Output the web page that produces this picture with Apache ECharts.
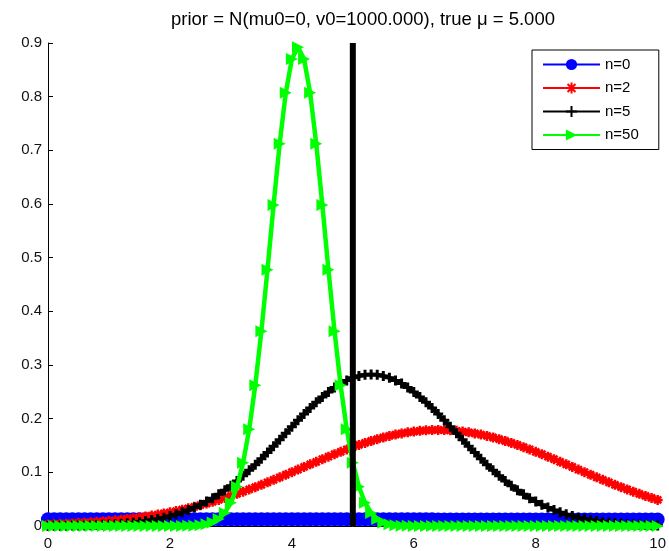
<!DOCTYPE html>
<html><head><meta charset="utf-8">
<script src="https://cdn.jsdelivr.net/npm/echarts@6/dist/echarts.min.js"></script>
<style>html,body{margin:0;padding:0;background:#fff}#c{width:669px;height:551px}</style>
</head><body><div id="c"></div>
<script>
const titleText = 'prior = N(mu0=0, v0=1000.000), true \u03bc = 5.000';
const seriesNames = ['n=0', 'n=2', 'n=5', 'n=50'];
const xTickInterval = 2;
const yTickInterval = 0.1;
const xs = [0,0.1,0.2,0.3,0.4,0.5,0.6,0.7,0.8,0.9,1,1.1,1.2,1.3,1.4,1.5,1.6,1.7,1.8,1.9,2,2.1,2.2,2.3,2.4,2.5,2.6,2.7,2.8,2.9,3,3.1,3.2,3.3,3.4,3.5,3.6,3.7,3.8,3.9,4,4.1,4.2,4.3,4.4,4.5,4.6,4.7,4.8,4.9,5,5.1,5.2,5.3,5.4,5.5,5.6,5.7,5.8,5.9,6,6.1,6.2,6.3,6.4,6.5,6.6,6.7,6.8,6.9,7,7.1,7.2,7.3,7.4,7.5,7.6,7.7,7.8,7.9,8,8.1,8.2,8.3,8.4,8.5,8.6,8.7,8.8,8.9,9,9.1,9.2,9.3,9.4,9.5,9.6,9.7,9.8,9.9,10];
const n0 = [0.0126,0.0126,0.0126,0.0126,0.0126,0.0126,0.0126,0.0126,0.0126,0.0126,0.0126,0.0126,0.0126,0.0126,0.0126,0.0126,0.0126,0.0126,0.0126,0.0126,0.0126,0.0126,0.0126,0.0126,0.0126,0.0126,0.0126,0.0126,0.0126,0.0126,0.0126,0.0126,0.0126,0.0126,0.0126,0.0126,
 0.0125,0.0125,0.0125,0.0125,0.0125,0.0125,0.0125,0.0125,0.0125,0.0125,0.0125,0.0125,0.0125,0.0125,0.0125,0.0125,0.0125,
 0.0124,0.0124,0.0124,0.0124,0.0124,0.0124,0.0124,0.0124,0.0124,0.0124,0.0124,
 0.0123,0.0123,0.0123,0.0123,0.0123,0.0123,0.0123,0.0123,0.0123,
 0.0122,0.0122,0.0122,0.0122,0.0122,0.0122,0.0122,0.0122,
 0.0121,0.0121,0.0121,0.0121,0.0121,0.0121,0.0121,
 0.0120,0.0120,0.0120,0.0120,0.0120,0.0120,0.0120,0.0120,0.0120,0.0120,0.0120,0.0120,0.0120];
const n2 = [0.0029,0.0033,0.0038,0.0043,0.0048,0.0054,0.0061,0.0068,0.0077,0.0086,0.0096,0.0106,0.0118,0.0131,0.0145,0.0160,0.0177,0.0194,0.0213,0.0234,0.0256,0.0279,0.0304,0.0330,0.0358,0.0388,0.0419,0.0452,0.0486,0.0522,0.0560,0.0599,0.0639,0.0681,0.0724,0.0768,0.0814,0.0860,0.0907,0.0955,0.1003,0.1051,0.1100,0.1149,0.1197,0.1245,0.1292,0.1338,0.1383,0.1427,0.1469,0.1510,0.1548,0.1584,0.1618,0.1649,0.1678,0.1703,0.1725,0.1745,0.1760,0.1773,0.1782,0.1787,0.1789,0.1787,0.1782,0.1773,0.1760,0.1745,0.1725,0.1703,0.1678,0.1649,0.1618,0.1584,0.1548,0.1510,0.1469,0.1427,0.1383,0.1338,0.1292,0.1245,0.1197,0.1149,0.1100,0.1051,0.1003,0.0955,0.0907,0.0860,0.0814,0.0768,0.0724,0.0681,0.0639,0.0599,0.0560,0.0522,0.0486];
const n5 = [0.0002,0.0003,0.0004,0.0005,0.0007,0.0009,0.0011,0.0014,0.0018,0.0022,0.0028,0.0034,0.0042,0.0051,0.0063,0.0076,0.0092,0.0110,0.0131,0.0156,0.0185,0.0217,0.0254,0.0296,0.0344,0.0396,0.0455,0.0519,0.0590,0.0667,0.0751,0.0840,0.0936,0.1037,0.1143,0.1254,0.1369,0.1487,0.1607,0.1728,0.1849,0.1969,0.2086,0.2198,0.2305,0.2406,0.2498,0.2580,0.2653,0.2713,0.2761,0.2796,0.2817,0.2824,0.2817,0.2796,0.2761,0.2713,0.2653,0.2580,0.2498,0.2406,0.2305,0.2198,0.2086,0.1969,0.1849,0.1728,0.1607,0.1487,0.1369,0.1254,0.1143,0.1037,0.0936,0.0840,0.0751,0.0667,0.0590,0.0519,0.0455,0.0396,0.0344,0.0296,0.0254,0.0217,0.0185,0.0156,0.0131,0.0110,0.0092,0.0076,0.0063,0.0051,0.0042,0.0034,0.0028,0.0022,0.0018,0.0014,0.0011];
const n50 = [0,0,0,0,0,0,0,0,0,0,0,0,0,0,0,0,0,0,0,0,0,0,
 0.0001,0.0003,0.0006,0.0015,0.0032,0.0066,0.0130,0.0244,0.0433,0.0732,0.1177,0.1801,0.2621,0.3627,0.4775,0.5980,0.7124,0.8072,0.8701,0.8921,0.8701,0.8072,0.7124,0.5980,0.4775,0.3627,0.2621,0.1801,0.1177,0.0732,0.0433,0.0244,0.0130,0.0066,0.0032,0.0015,0.0006,0.0003,0.0001,
 0,0,0,0,0,0,0,0,0,0,0,0,0,0,0,0,0,0,0,0,0,0,0,0,0,0,0,0,0,0,0,0,0,0,0,0,0,0,0,0];
const trueMuX = [5, 5];
const trueMuY = [0, 0.9];

const FONT = '"Liberation Sans", Arial, sans-serif';
const pairs = ys => xs.map((x, i) => [x, ys[i]]);
const ASTER = 'path://M0,5L10,5M5,0L5,10M1.5,1.5L8.5,8.5M8.5,1.5L1.5,8.5';
const PLUS = 'path://M0,5L10,5M5,0L5,10';
const TRI = 'path://M0,0L10,5L0,10Z';

const chart = echarts.init(document.getElementById('c'), null, {renderer: 'canvas'});
chart.setOption({
  animation: false,
  backgroundColor: '#fff',
  title: {
    text: titleText, left: 358, top: 5, textAlign: 'center',
    textStyle: {fontFamily: FONT, fontSize: 18.5, fontWeight: 'normal', color: '#000'}
  },
  grid: {left: 48, right: 5, top: 43, bottom: 24, containLabel: false},
  legend: {
    data: seriesNames, orient: 'vertical', left: 532, top: 50,
    padding: [7, 20, 7, 10], itemWidth: 57, itemHeight: 14, itemGap: 8.5,
    borderColor: '#000', borderWidth: 1, backgroundColor: '#fff',
    textStyle: {fontFamily: FONT, fontSize: 15, color: '#000'}
  },
  xAxis: {
    type: 'value', min: 0, max: 10, interval: xTickInterval,
    axisLine: {show: true, onZero: false, lineStyle: {color: '#000', width: 1}},
    axisTick: {show: true, inside: true, length: 5, lineStyle: {color: '#000'}},
    axisLabel: {fontFamily: FONT, fontSize: 15, color: '#111', margin: 10},
    splitLine: {show: false}
  },
  yAxis: {
    type: 'value', min: 0, max: 0.9, interval: yTickInterval,
    axisLine: {show: true, lineStyle: {color: '#000', width: 1}},
    axisTick: {show: true, inside: true, length: 5, lineStyle: {color: '#000'}},
    axisLabel: {fontFamily: FONT, fontSize: 15, color: '#111', margin: 6},
    splitLine: {show: false}
  },
  series: [
    {name: 'n=0', type: 'line', data: pairs(n0), symbol: 'circle', symbolSize: 14,
     lineStyle: {color: '#0000ff', width: 4}, itemStyle: {color: '#0000ff'}, z: 2},
    {name: 'n=2', type: 'line', data: pairs(n2), symbol: ASTER, symbolSize: 10,
     lineStyle: {color: '#ff0000', width: 4}, itemStyle: {color: '#ff0000', borderColor: '#ff0000', borderWidth: 2.5}, z: 3},
    {name: 'n=5', type: 'line', data: pairs(n5), symbol: PLUS, symbolSize: 10,
     lineStyle: {color: '#000000', width: 4}, itemStyle: {color: '#000000', borderColor: '#000000', borderWidth: 3}, z: 4},
    {name: 'n=50', type: 'line', data: pairs(n50), symbol: TRI, symbolSize: 12,
     lineStyle: {color: '#00ff00', width: 4.5}, itemStyle: {color: '#00ff00'}, z: 5},
    {name: 'true', type: 'line', data: trueMuX.map((x, i) => [x, trueMuY[i]]), symbol: 'none',
     lineStyle: {color: '#000', width: 6}, z: 6}
  ]
});
</script></body></html>
